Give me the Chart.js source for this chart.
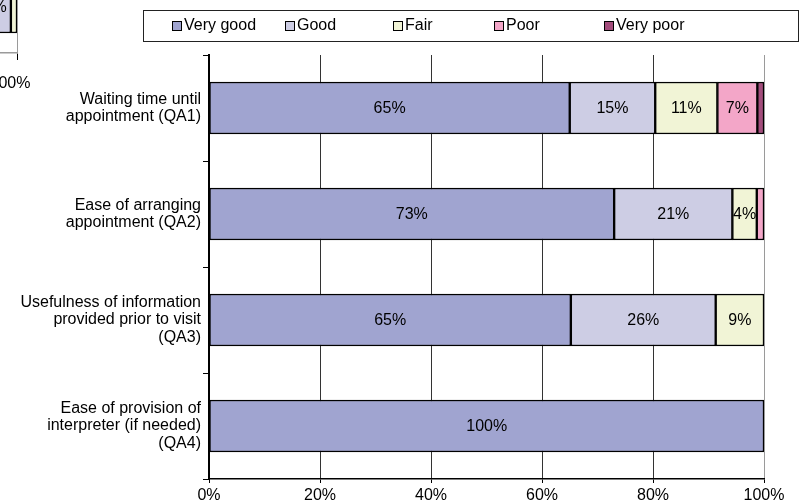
<!DOCTYPE html>
<html>
<head>
<meta charset="utf-8">
<script src="https://cdn.jsdelivr.net/npm/chart.js@4"></script>
<style>
  html, body { margin: 0; padding: 0; background: #fff; overflow: hidden; }
  #wrap { position: relative; width: 806px; height: 504px; overflow: hidden; }
  #main { position: absolute; left: 0; top: 0; width: 806px; height: 504px; }
  #fragBox { position: absolute; left: -747px; top: -60px; width: 806px; height: 160px; }
</style>
</head>
<body>
<div id="wrap">
  <div id="fragBox"><canvas id="frag"></canvas></div>
  <div id="main"><canvas id="myChart"></canvas></div>
</div>
<script>
// categories (y axis)
const categories = [
    ['Waiting time until', 'appointment (QA1)'],
    ['Ease of arranging', 'appointment (QA2)'],
    ['Usefulness of information', 'provided prior to visit', '(QA3)'],
    ['Ease of provision of', 'interpreter (if needed)', '(QA4)']
];
const seriesNames = ['Very good', 'Good', 'Fair', 'Poor', 'Very poor'];

// percent of answers per rating
const veryGood = [65, 73, 65.2, 100];
const good = [15.4, 21.3, 26.1, null];
const fair = [11.2, 4.4, 8.7, null];
const poor = [7.2, 1.3, null, null];
const veryPoor = [1.2, null, null, null];

const xTicks = [0, 20, 40, 60, 80, 100];

// piece of the chart above (cut off at the top left)
const fragVeryGood = [93.2];
const fragGood = [5.7];
const fragFair = [1.1];

const colors = ['#a0a4d0', '#cdcde4', '#f1f4d6', '#f3a6c8', '#a34c7c'];
const FONT = "'Liberation Sans', Arial, sans-serif";

Chart.defaults.font.family = FONT;
Chart.defaults.color = '#000';

// value text in the middle of each segment
const valueLabels = {
    id: 'valueLabels',
    afterDatasetsDraw(chart) {
        const c = chart.ctx;
        c.save();
        c.font = '16px ' + FONT;
        c.fillStyle = '#000';
        c.textAlign = 'center';
        c.textBaseline = 'middle';
        chart.data.datasets.forEach((ds, i) => {
            chart.getDatasetMeta(i).data.forEach((bar, j) => {
                const v = ds.data[j];
                if (v == null || v < 3) return;
                c.fillText(Math.round(v) + '%', (bar.x + bar.base) / 2, bar.y + 1);
            });
        });
        c.restore();
    }
};

// boxed legend like excel
const boxLegend = {
    id: 'boxLegend',
    afterDraw(chart) {
        const c = chart.ctx;
        const itemX = [172, 285, 393, 494, 604];
        c.save();
        c.strokeStyle = '#222';
        c.lineWidth = 1;
        c.strokeRect(143.5, 10.5, 655, 31);
        c.font = '16px ' + FONT;
        c.textBaseline = 'middle';
        c.textAlign = 'left';
        seriesNames.forEach((name, i) => {
            c.fillStyle = colors[i];
            c.fillRect(itemX[i] + 0.5, 21.5, 9, 9);
            c.strokeStyle = '#000';
            c.strokeRect(itemX[i] + 0.5, 21.5, 9, 9);
            c.fillStyle = '#000';
            c.fillText(name, itemX[i] + 12, 26);
        });
        c.restore();
    }
};

const makeSets = (lists) => lists.map((d, i) => ({
    label: seriesNames[i],
    data: d,
    backgroundColor: colors[i],
    borderColor: '#000',
    borderWidth: 1.5,
    borderSkipped: false,
    barThickness: 52
}));

const xScale = (tickLen, pad, borderColor, h, shift) => ({
    type: 'linear',
    stacked: true,
    min: 0,
    max: 100,
    afterBuildTicks: (s) => { s.ticks = xTicks.map(v => ({ value: v })); },
    ticks: {
        callback: (v) => v + '%',
        font: { size: 16 },
        padding: pad,
        labelOffset: shift,
        maxRotation: 0
    },
    grid: {
        color: (ctx) => ctx.tick && ctx.tick.value === 100 ? '#9a9a9a' : '#333',
        tickColor: '#000',
        tickLength: tickLen,
        lineWidth: 1
    },
    border: { display: true, color: borderColor, width: 1.5 },
    afterFit: (s) => { s.height = h; }
});

new Chart(document.getElementById('myChart'), {
    type: 'bar',
    data: {
        labels: categories,
        datasets: makeSets([veryGood, good, fair, poor, veryPoor])
    },
    options: {
        indexAxis: 'y',
        responsive: true,
        maintainAspectRatio: false,
        animation: false,
        layout: { padding: { top: 55, right: 42, left: 0, bottom: 0 } },
        plugins: { legend: { display: false }, tooltip: { enabled: false } },
        scales: {
            x: xScale(4, 3, '#000', 25, 0),
            y: {
                stacked: true,
                ticks: { font: { size: 16, lineHeight: 1.1 }, padding: 2 },
                grid: {
                    offset: true,
                    drawOnChartArea: false,
                    tickLength: 6,
                    color: '#000'
                },
                border: { display: true, color: '#000', width: 2 },
                afterFit: (s) => { s.width = 209; }
            }
        }
    },
    plugins: [valueLabels, boxLegend]
});

new Chart(document.getElementById('frag'), {
    type: 'bar',
    data: {
        labels: [''],
        datasets: makeSets([fragVeryGood, fragGood, fragFair])
    },
    options: {
        indexAxis: 'y',
        responsive: true,
        maintainAspectRatio: false,
        animation: false,
        layout: { padding: { top: 21, right: 42, left: 0, bottom: 0 } },
        plugins: { legend: { display: false }, tooltip: { enabled: false } },
        scales: {
            x: xScale(7, 14, '#9a9a9a', 47, -7),
            y: {
                stacked: true,
                ticks: { display: false },
                grid: { display: false },
                border: { display: true, color: '#000', width: 2 },
                afterFit: (s) => { s.width = 209; }
            }
        }
    },
    plugins: [valueLabels]
});
</script>
</body>
</html>
